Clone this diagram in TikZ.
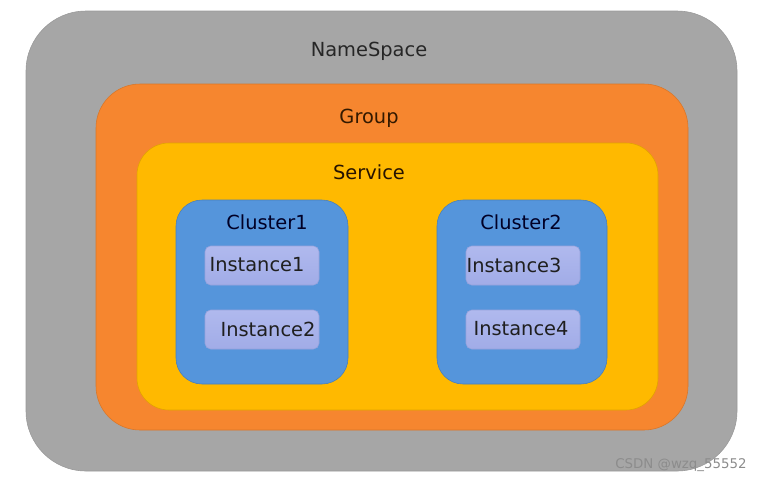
\documentclass[tikz,border=0pt]{standalone}
\usepackage{fontspec}
\setmainfont{DejaVu Sans}
\usepackage{tikz}
\usetikzlibrary{positioning}

\definecolor{nsgray}{HTML}{A6A6A6}
\definecolor{grouporange}{HTML}{F6862F}
\definecolor{serviceyellow}{HTML}{FFB900}
\definecolor{clusterblue}{HTML}{5595DB}
\definecolor{insttop}{HTML}{B0B9EE}
\definecolor{instbottom}{HTML}{A1ACE7}
\definecolor{instline}{HTML}{97A3DC}

\begin{document}
\begin{tikzpicture}[x=0.025cm, y=-0.025cm,
  frame/.style={line width=0.4pt},
  label/.style={font=\fontsize{13.8}{16}\selectfont, inner sep=0pt},
  inst/.style={rounded corners=4pt, top color=insttop, bottom color=instbottom, draw=instline, line width=0.4pt}]
  \useasboundingbox (0,0) rectangle (763,483);

  % nested frames
  \draw[frame, fill=nsgray, draw=nsgray!92!black, rounded corners=1.5cm] (26,11) rectangle (737,471);
  \draw[frame, fill=grouporange, draw=grouporange!88!black, rounded corners=1.1cm] (96,84) rectangle (688,430);
  \draw[frame, fill=serviceyellow, draw=serviceyellow!88!black, rounded corners=0.8cm] (137,143) rectangle (658,410);
  \draw[frame, fill=clusterblue, draw=clusterblue!85!black, rounded corners=0.65cm] (176,200) rectangle (348,384);
  \draw[frame, fill=clusterblue, draw=clusterblue!85!black, rounded corners=0.65cm] (437,200) rectangle (607,384);

  % instance boxes
  \draw[inst] (205,246) rectangle (319,285);
  \draw[inst] (205,310) rectangle (319,349);
  \draw[inst] (466,246) rectangle (580,285);
  \draw[inst] (466,310) rectangle (580,349);

  % labels
  \node[label, text=black!85] (namespace) at (369,51) {NameSpace};
  \node[label, text=black!80!orange] (group) at (369,118) {Group};
  \node[label, text=black!85!orange] (service) at (369,172) {Service};
  \node[label, text=black!85!blue] (cluster1) at (267,222) {Cluster1};
  \node[label, text=black!85!blue] (cluster2) at (521,222) {Cluster2};
  \node[label, text=black!88] (inst1) at (257,265) {Instance1};
  \node[label, text=black!88] (inst2) at (268,329) {Instance2};
  \node[label, text=black!88] (inst3) at (514,265) {Instance3};
  \node[label, text=black!88] (inst4) at (521,329) {Instance4};

  \node[font=\fontsize{9.5}{11}\selectfont, text=black!45, inner sep=0pt] (mark) at (681,465) {CSDN @wzq\_55552};
\end{tikzpicture}
\end{document}
